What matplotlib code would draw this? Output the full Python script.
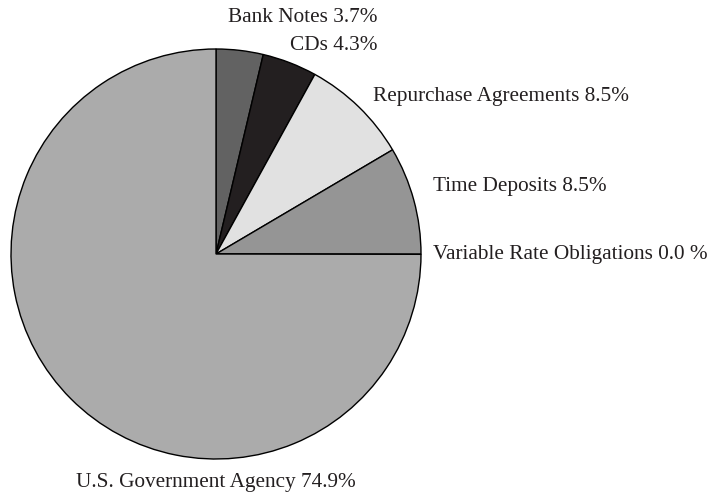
import matplotlib.pyplot as plt

labels = ['Bank Notes', 'CDs', 'Repurchase Agreements', 'Time Deposits',
          'Variable Rate Obligations', 'U.S. Government Agency']
values = [3.7, 4.3, 8.5, 8.5, 0.0, 74.9]
pct_text = ['3.7%', '4.3%', '8.5%', '8.5%', '0.0 %', '74.9%']
colors = ['#626262', '#231f20', '#e1e1e1', '#959595', '#ababab', '#ababab']

plt.rcParams['font.family'] = ['Liberation Serif', 'DejaVu Serif']

fig = plt.figure(figsize=(7.14, 4.96), dpi=100)
ax = fig.add_axes([0, 0, 1, 1])

# pie in pixel units: center (216, 254), radius 205 (y axis flipped below,
# so start at 270 and go counterclockwise in data = clockwise on screen)
ax.pie(values, colors=colors, startangle=270, counterclock=True,
       center=(216, 254), radius=205, frame=False,
       wedgeprops=dict(edgecolor='black', linewidth=1.0))
ax.set_xlim(0, 714)
ax.set_ylim(496, 0)
ax.set_aspect('equal')
ax.axis('off')

# label anchors (x, y, ha)
label_pos = [(377, 17, 'right'), (377, 46, 'right'), (373, 97, 'left'),
             (433, 186, 'left'), (433, 254, 'left'), (216, 482, 'center')]
for lab, p, (x, y, ha) in zip(labels, pct_text, label_pos):
    ax.text(x, y, f'{lab} {p}', ha=ha, va='center', fontsize=15.3, color='#231f20')

fig.savefig('out.png', dpi=100)
